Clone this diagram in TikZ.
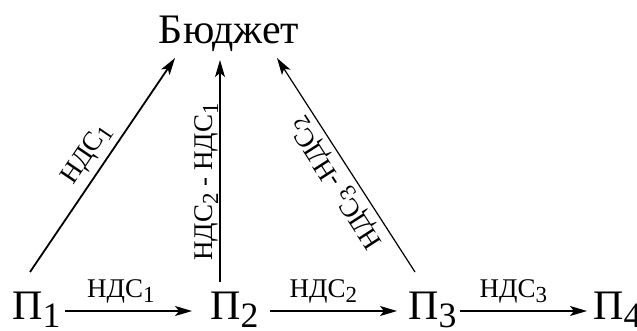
\documentclass[tikz,border=0pt]{standalone}
\usepackage{fontspec}
\setmainfont{Liberation Serif}
\usetikzlibrary{arrows.meta}
\newcommand\sbs[1]{\raisebox{-0.2em}{\scalebox{0.85}{#1}}}
\begin{document}
\begin{tikzpicture}[x=1pt,y=-1pt,
  arr/.style={-{Stealth[length=17pt,width=10pt,inset=4pt]}, line width=1.5pt},
  thin/.style={line width=1.2pt},
  thick/.style={line width=1.8pt},
  lab/.style={font=\fontsize{27}{30}\selectfont, inner sep=0pt},
  big/.style={font=\fontsize{42}{46}\selectfont, inner sep=0pt}]
\useasboundingbox (0,0) rectangle (637,331);
\node[big, anchor=base] (bud) at (229,44) {Бюджет};
\node[big, anchor=base west] (p1) at (12,319) {П\sbs{1}};
\node[big, anchor=base west] (p2) at (210,319) {П\sbs{2}};
\node[big, anchor=base west] (p3) at (408,319) {П\sbs{3}};
\node[big, anchor=base west] (p4) at (593,319) {П\sbs{4}};
\draw[arr, thick] ([shift={(18,-47)}]p1.base west) -- ([shift={(-54,14)}]bud.base)
  node[lab, pos=0.5, rotate=55.9, anchor=south, inner ysep=6pt] {НДС\sbs{1}};
\draw[arr, thin] ([shift={(10,-37)}]p2.base west) -- ([shift={(-9,16)}]bud.base)
  node[lab, pos=0.45, rotate=90, anchor=south, inner ysep=1pt] {НДС\sbs{2} - НДС\sbs{1}};
\draw[arr, thin] ([shift={(7,-47)}]p3.base west) -- ([shift={(48,14)}]bud.base)
  node[lab, pos=0.46, rotate=122.8, anchor=south, inner ysep=5pt] {НДС\sbs{3} -НДС\sbs{2}};
\draw[arr] ([shift={(53,-8)}]p1.base west) -- ([shift={(-18,-8)}]p2.base west)
  node[lab, pos=0.44, anchor=base, yshift=14pt] {НДС\sbs{1}};
\draw[arr] ([shift={(60,-8)}]p2.base west) -- ([shift={(-11,-8)}]p3.base west)
  node[lab, pos=0.42, anchor=base, yshift=14pt] {НДС\sbs{2}};
\draw[arr] ([shift={(52,-8)}]p3.base west) -- ([shift={(-6,-8)}]p4.base west)
  node[lab, pos=0.42, anchor=base, yshift=14pt] {НДС\sbs{3}};
\end{tikzpicture}
\end{document}
